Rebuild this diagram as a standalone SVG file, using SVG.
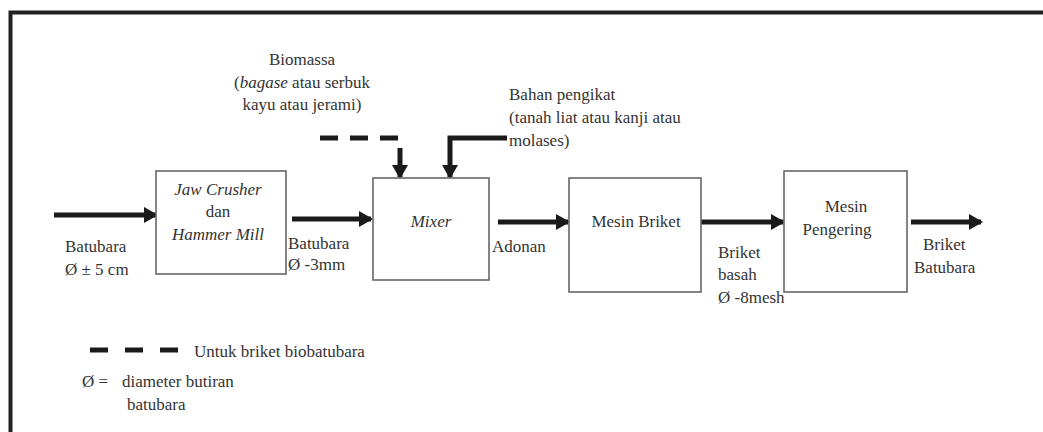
<svg xmlns="http://www.w3.org/2000/svg" width="1043" height="432" viewBox="0 0 1043 432" font-family="'Liberation Serif', 'Times New Roman', 'DejaVu Serif', serif">
<style>
text{font-family:'Liberation Serif','Times New Roman','DejaVu Serif',serif;font-size:17px;fill:#333}
.i{font-style:italic}
.box{fill:#fff;stroke:#666;stroke-width:1.6}
.flow{fill:none;stroke:#1a1a1a;stroke-width:5}
.dash{fill:none;stroke:#1a1a1a;stroke-width:5;stroke-dasharray:18 12}
</style>
<defs>
<marker id="ah" markerUnits="userSpaceOnUse" markerWidth="14" markerHeight="16" refX="12" refY="8" orient="auto">
<path d="M0,0 L14,8 L0,16 z" fill="#1a1a1a"/>
</marker>
</defs>
<rect x="0" y="0" width="1043" height="432" fill="#fff"/>
<path d="M10.5,432 V12.5 H1043" fill="none" stroke="#222" stroke-width="4"/>

<g id="connectors">
<line class="flow" x1="54" y1="215" x2="156" y2="215" marker-end="url(#ah)"/>
<line class="flow" x1="292" y1="219" x2="371" y2="219" marker-end="url(#ah)"/>
<line class="flow" x1="498" y1="222" x2="568" y2="222" marker-end="url(#ah)"/>
<line class="flow" x1="701" y1="222" x2="783" y2="222" marker-end="url(#ah)"/>
<line class="flow" x1="911" y1="222" x2="981" y2="222" marker-end="url(#ah)"/>
<line class="dash" x1="320" y1="138" x2="398" y2="138"/>
<line class="flow" x1="400" y1="148" x2="400" y2="177" marker-end="url(#ah)"/>
<polyline class="flow" points="507,138 450,138 450,177" marker-end="url(#ah)"/>
</g>

<g id="jaw">
<rect class="box" x="156" y="171" width="130" height="103"/>
<text class="i" x="218" y="195" text-anchor="middle">Jaw Crusher</text>
<text x="218" y="217" text-anchor="middle">dan</text>
<text class="i" x="218" y="240" text-anchor="middle">Hammer Mill</text>
</g>
<g id="mixer">
<rect class="box" x="373" y="178" width="116" height="102"/>
<text class="i" x="431" y="227" text-anchor="middle">Mixer</text>
</g>
<g id="briket">
<rect class="box" x="569" y="178" width="132" height="114"/>
<text x="636" y="227" text-anchor="middle">Mesin Briket</text>
</g>
<g id="pengering">
<rect class="box" x="784" y="171" width="123" height="121"/>
<text x="846" y="212" text-anchor="middle">Mesin</text>
<text x="837" y="235" text-anchor="middle">Pengering</text>
</g>

<g id="labels">
<text x="65" y="252">Batubara</text>
<text x="65" y="275">Ø ± 5 cm</text>
<text x="288" y="249">Batubara</text>
<text x="288" y="270">Ø -3mm</text>
<text x="492" y="252">Adonan</text>
<text x="718" y="258">Briket</text>
<text x="718" y="280">basah</text>
<text x="718" y="303">Ø -8mesh</text>
<text x="923" y="250">Briket</text>
<text x="914" y="273">Batubara</text>
<text x="302" y="65" text-anchor="middle">Biomassa</text>
<text x="302" y="88" text-anchor="middle">(<tspan class="i">bagase</tspan> atau serbuk</text>
<text x="302" y="110" text-anchor="middle">kayu atau jerami)</text>
<text x="509" y="100">Bahan pengikat</text>
<text x="509" y="123">(tanah liat atau kanji atau</text>
<text x="509" y="146">molases)</text>
</g>

<g id="legend">
<line class="dash" x1="90" y1="350" x2="178" y2="350" style="stroke-dasharray:18 17"/>
<text x="194" y="357">Untuk briket biobatubara</text>
<text x="82" y="387">Ø =</text>
<text x="122" y="387">diameter butiran</text>
<text x="127" y="410">batubara</text>
</g>
</svg>
